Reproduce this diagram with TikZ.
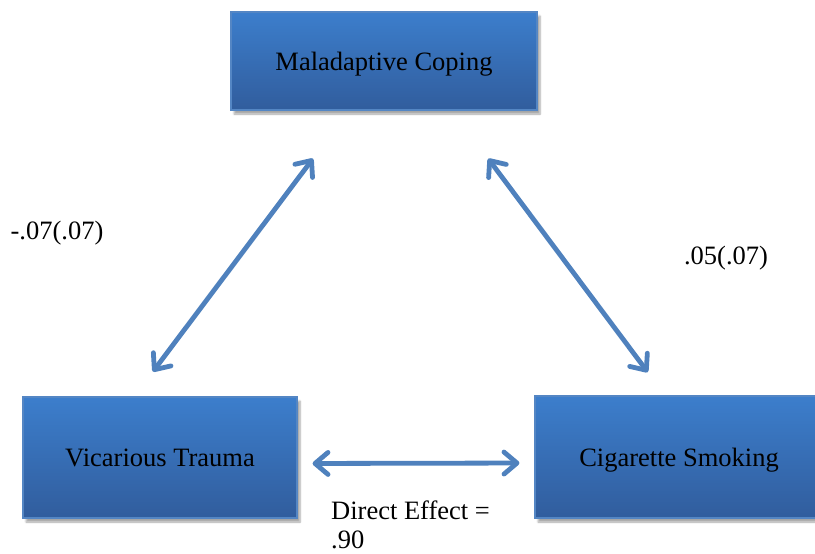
\documentclass[tikz,border=0pt]{standalone}
\usepackage{fontspec}
\setmainfont{Liberation Serif}
\usetikzlibrary{arrows.meta,shadows.blur}

\definecolor{boxtop}{RGB}{60,126,204}
\definecolor{boxbot}{RGB}{49,93,157}
\definecolor{boxline}{RGB}{84,134,196}
\definecolor{arrowblue}{RGB}{79,129,189}

\begin{document}
\begin{tikzpicture}[x=1pt, y=-1pt,
    every node/.style={font=\fontsize{26.5}{29}\selectfont},
    varbox/.style={draw=boxline, line width=1.2pt, top color=boxtop, bottom color=boxbot,
        inner sep=0pt, text depth=0pt,
        blur shadow={shadow xshift=3pt, shadow yshift=-4pt, shadow blur steps=6, shadow opacity=35}},
    link/.style={draw=arrowblue, line width=4.8pt, line cap=round,
        {Straight Barb[length=13pt, width=22pt, line cap=round, round]}-{Straight Barb[length=13pt, width=22pt, line cap=round, round]}}
]

    % 0. Marco de la figura
    \useasboundingbox (0,0) rectangle (815,554);
    \clip (0,0) rectangle (815,554);

    % 1. Variables (cajas azules)
    \node[varbox, minimum width=306pt, minimum height=98pt] (coping) at (384,61) {Maladaptive Coping};
    \node[varbox, minimum width=274pt, minimum height=121pt] (trauma) at (160,457.5) {Vicarious Trauma};
    \node[varbox, minimum width=288pt, minimum height=122pt] (smoking) at (679,457) {Cigarette Smoking};

    % 2. Flechas dobles entre variables
    \draw[link, shorten <=31pt, shorten >=60pt] ([xshift=-25.7pt]trauma.north) -- ([xshift=-35pt]coping.south);
    \draw[link, shorten <=60pt, shorten >=29pt] ([xshift=68.3pt]coping.south) -- ([xshift=-13.9pt]smoking.north);
    \draw[link, shorten <=15pt, shorten >=15pt] ([yshift=-6pt]trauma.east) -- ([yshift=-6pt]smoking.west);

    % 3. Coeficientes
    \node (pathA) at (57,233) {-.07(.07)};
    \node (pathB) at (726,258) {.05(.07)};
    \node[anchor=north west, inner sep=0pt, align=left] (direct) at (331,501) {Direct Effect =\\.90};

\end{tikzpicture}
\end{document}
